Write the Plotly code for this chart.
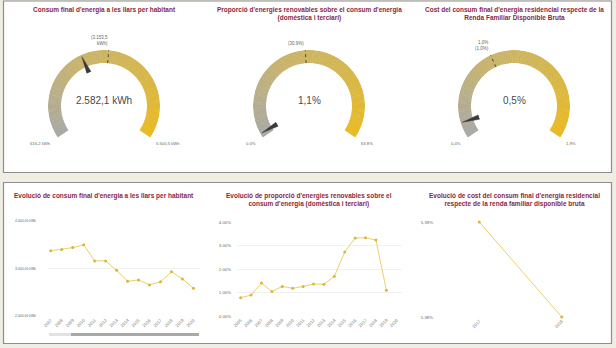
import math
import plotly.graph_objects as go

W, H = 616, 348
FONT = "Liberation Sans, Arial, sans-serif"
TITLE_COLOR = "#8b1f3f"

# ---------------- data ----------------
gauge_titles = [
    "Consum final d'energia a les llars per habitant",
    "Proporció d'energies renovables sobre el consum d'energia<br>(domèstica i terciari)",
    "Cost del consum final d'energia residencial respecte de la<br>Renda Familiar Disponible Bruta",
]
gauge_values = [2582.1, 1.1, 0.5]
gauge_min = [616.2, 0.0, 0.4]
gauge_max = [5500.5, 63.8, 1.9]
gauge_ref = [3153.5, 30.9, 1.0]
gauge_value_text = ["2.582,1 kWh", "1,1%", "0,5%"]
gauge_min_text = ["616,2 kWh", "0.0%", "0,4%"]
gauge_max_text = ["5.500,5 kWh", "63.8%", "1,9%"]
gauge_ref_text = ["(3.153,5<br>kWh)", "(30.9%)", "1,0%<br>(1.0%)"]

line_titles = [
    "Evolució de consum final d'energia a les llars per habitant",
    "Evolució de proporció d'energies renovables sobre el<br>consum d'energia (domèstica i terciari)",
    "Evolució de cost del consum final d'energia residencial<br>respecte de la renda familiar disponible bruta",
]

years1 = ["2007", "2008", "2009", "2010", "2011", "2012", "2013",
          "2014", "2015", "2016", "2017", "2018", "2019", "2020"]
consum = [3375, 3400, 3440, 3500, 3160, 3160, 2965,
          2730, 2760, 2655, 2720, 2930, 2780, 2582.1]
consum_ticks = [2000, 3000, 4000]
consum_ticktext = ["2.000,00 kWh", "3.000,00 kWh", "4.000,00 kWh"]

years2 = ["2005", "2006", "2007", "2008", "2009", "2010", "2011", "2012",
          "2013", "2014", "2015", "2016", "2017", "2018", "2019", "2020"]
renov = [0.78, 0.89, 1.40, 1.04, 1.26, 1.18, 1.26, 1.36,
         1.35, 1.69, 2.72, 3.32, 3.33, 3.23, 1.10, None]
renov_ticks = [0, 1, 2, 3, 4]
renov_ticktext = ["0.00%", "1.00%", "2.00%", "3.00%", "4.00%"]

years3 = ["2017", "2018"]
cost = [5.39, 5.38]
cost_ticks = [5.38, 5.39]
cost_ticktext = ["5,38%", "5,39%"]


# ---------------- helpers ----------------
def X(p):
    return p / W


def Y(p):
    return 1 - p / H


def lerp_color(f):
    stops = [(0.0, (168, 168, 166)), (0.36, (199, 179, 110)),
             (0.68, (212, 182, 78)), (1.0, (233, 186, 34))]
    for (f0, c0), (f1, c1) in zip(stops[:-1], stops[1:]):
        if f <= f1:
            t = (f - f0) / (f1 - f0)
            c = [round(a + (b - a) * t) for a, b in zip(c0, c1)]
            return "rgb(%d,%d,%d)" % tuple(c)
    return "rgb(%d,%d,%d)" % stops[-1][1]


def ann(x, y, text, size, color, xa="center", ya="middle", align="center"):
    return dict(x=X(x), y=Y(y), xref="paper", yref="paper", text=text,
                showarrow=False, xanchor=xa, yanchor=ya, align=align,
                font=dict(size=size, color=color, family=FONT))


fig = go.Figure()

# ---------------- gauges ----------------
centers = [(104, 106), (309, 106), (514, 106)]
R_OUT, R_IN = 56, 43
START, SPAN = 214.0, 248.0
NSEG = 124
layout_polars = {}
annotations = []

for gi in range(3):
    cx, cy = centers[gi]
    sub = "polar" if gi == 0 else "polar%d" % (gi + 1)
    lo, hi = gauge_min[gi], gauge_max[gi]

    def ang(v):
        return START - (v - lo) / (hi - lo) * SPAN

    fr = [(i + 0.5) / NSEG for i in range(NSEG)]
    fig.add_trace(go.Barpolar(
        r=[R_OUT - R_IN] * NSEG, base=[R_IN] * NSEG,
        theta=[START - f * SPAN for f in fr],
        width=[SPAN / NSEG + 0.4] * NSEG,
        marker=dict(color=[lerp_color(f) for f in fr], line=dict(width=0)),
        subplot=sub, hoverinfo="skip", showlegend=False))
    # reference tick
    tr = ang(gauge_ref[gi])
    fig.add_trace(go.Scatterpolar(
        r=[R_IN, R_OUT], theta=[tr, tr], mode="lines",
        line=dict(color="#4a4a4a", width=1, dash="dot"),
        subplot=sub, hoverinfo="skip", showlegend=False))
    # needle
    tv = ang(gauge_values[gi])
    fig.add_trace(go.Scatterpolar(
        r=[37, 37, 54, 37], theta=[tv - 3.5, tv + 3.5, tv, tv - 3.5],
        mode="lines", fill="toself", fillcolor="#3a3a3a",
        line=dict(color="#3a3a3a", width=0.5),
        subplot=sub, hoverinfo="skip", showlegend=False))

    layout_polars[sub] = dict(
        domain=dict(x=[X(cx - R_OUT), X(cx + R_OUT)],
                    y=[Y(cy + R_OUT), Y(cy - R_OUT)]),
        bgcolor="rgba(0,0,0,0)",
        radialaxis=dict(range=[0, R_OUT], visible=False),
        angularaxis=dict(visible=False, direction="counterclockwise",
                         rotation=0),
        hole=0)

    annotations.append(ann(cx, 100, gauge_value_text[gi], 10, "#4a4a4a"))
    annotations.append(ann(cx - 51, 143, gauge_min_text[gi], 4.2, "#666",
                           xa="right"))
    annotations.append(ann(cx + 50, 143, gauge_max_text[gi], 4.2, "#666",
                           xa="left"))
    tx = cx + (R_OUT + 1) * math.cos(math.radians(tr))
    ty = cy - (R_OUT + 1) * math.sin(math.radians(tr))
    annotations.append(ann(tx + 1, ty - 1, gauge_ref_text[gi], 4.5, "#666",
                           xa="right", ya="bottom", align="right"))
    annotations.append(ann(cx, 4, "<b>%s</b>" % gauge_titles[gi], 6.5,
                           TITLE_COLOR, ya="top"))

# ---------------- line charts ----------------
LINE_C = "#ecd068"
MARK_C = "#d9b63c"
series = [(years1, consum, "x", "y"), (years2, renov, "x2", "y2"),
          (years3, cost, "x3", "y3")]
for xs, ys, xa, ya in series:
    fig.add_trace(go.Scatter(
        x=xs, y=ys, xaxis=xa, yaxis=ya, mode="lines+markers",
        line=dict(color=LINE_C, width=1),
        marker=dict(color=MARK_C, size=3), cliponaxis=False,
        connectgaps=False, showlegend=False, hoverinfo="skip"))

xtickfont = dict(size=4.3, color="#777", family=FONT)
common_x = dict(type="category", tickangle=-45, tickfont=xtickfont,
                showgrid=False, showline=False, zeroline=False,
                ticks="", automargin=False)
common_y = dict(showgrid=True, gridcolor="#f1f1f1", gridwidth=1,
                showline=False, zeroline=False, ticks="",
                automargin=False)

lcenters = [104, 309, 514]
for i, t in enumerate(line_titles):
    annotations.append(ann(lcenters[i], 190, "<b>%s</b>" % t, 6.5,
                           TITLE_COLOR, ya="top"))

shapes = [
    dict(type="rect", xref="paper", yref="paper", x0=X(3.5), x1=X(611.5),
         y0=Y(172.5), y1=Y(1), fillcolor="white",
         line=dict(color="#8e8e8e", width=1.2), layer="below"),
    dict(type="rect", xref="paper", yref="paper", x0=X(3.5), x1=X(611.5),
         y0=Y(343.5), y1=Y(182.5), fillcolor="white",
         line=dict(color="#8e8e8e", width=1.2), layer="below"),
    # scrollbar of first chart
    dict(type="rect", xref="paper", yref="paper", x0=X(49), x1=X(199),
         y0=Y(336), y1=Y(333), fillcolor="#e2e2e2", line=dict(width=0)),
    dict(type="rect", xref="paper", yref="paper", x0=X(71), x1=X(199),
         y0=Y(336), y1=Y(333), fillcolor="#a9a9a9", line=dict(width=0)),
]

fig.update_layout(
    width=W, height=H, margin=dict(l=0, r=0, t=0, b=0),
    paper_bgcolor="#f0ede3", plot_bgcolor="rgba(0,0,0,0)",
    template="none", font=dict(family=FONT),
    showlegend=False,
    annotations=annotations, shapes=shapes,
    xaxis=dict(common_x, domain=[X(48), X(200)], range=[-0.25, 13.6],
               anchor="y"),
    yaxis=dict(common_y, domain=[Y(316), Y(221)], range=[2000, 4000],
               tickvals=consum_ticks, ticktext=consum_ticktext, anchor="x",
               tickfont=dict(size=3.4, color="#666", family=FONT),
               ticklabelstandoff=11),
    xaxis2=dict(common_x, domain=[X(237), X(402)], range=[-0.35, 15.5],
                anchor="y2"),
    yaxis2=dict(common_y, domain=[Y(316), Y(222)], range=[0, 4],
                tickvals=renov_ticks, ticktext=renov_ticktext, anchor="x2",
                tickfont=dict(size=4.3, color="#666", family=FONT),
                ticklabelstandoff=5),
    xaxis3=dict(common_x, domain=[X(438), X(603)], range=[-0.5, 1.5],
                anchor="y3"),
    yaxis3=dict(common_y, domain=[Y(317), Y(222)], range=[5.38, 5.39],
                tickvals=cost_ticks, ticktext=cost_ticktext, anchor="x3",
                tickfont=dict(size=4.3, color="#666", family=FONT),
                ticklabelstandoff=4),
    **layout_polars,
)

fig.write_html("out.html")
